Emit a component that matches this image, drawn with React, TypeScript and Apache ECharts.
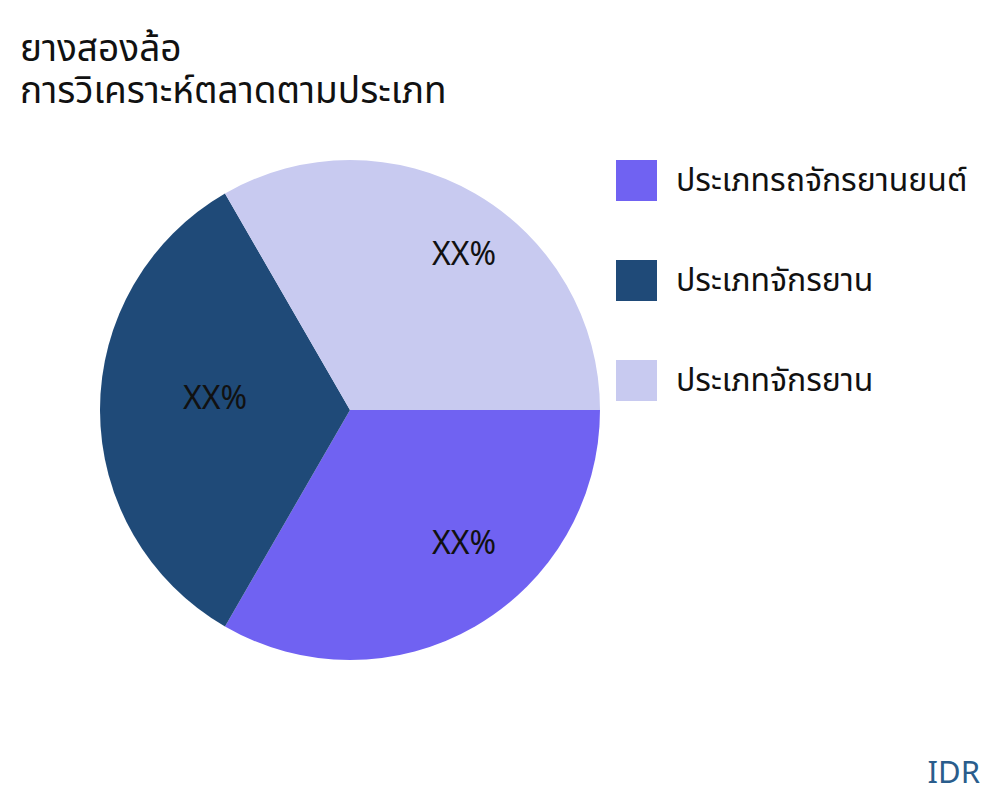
import { useEffect, useRef } from "react";
import * as echarts from "echarts";

// ข้อมูลแผนภูมิ
const categories = ["ประเภทรถจักรยานยนต์", "ประเภทจักรยาน", "ประเภทจักรยาน"];
const shares = [1, 1, 1];
const labels = ["XX%", "XX%", "XX%"];
const colors = ["#7062f2", "#1f4a78", "#c8caf0"];

const titleText = "ยางสองล้อ\nการวิเคราะห์ตลาดตามประเภท";
const sourceText = "IDR";

const FONT = "'Noto Sans', 'Noto Sans Thai', 'DejaVu Sans', sans-serif";

// ขยับป้ายให้ตรงกับภาพต้นฉบับ
const labelOffsets = [
  [50, 21],
  [-7, -14],
  [50, -47],
];

export default function App() {
  const ref = useRef<HTMLDivElement>(null);

  useEffect(() => {
    if (!ref.current) return;
    const chart = echarts.init(ref.current, null, { renderer: "svg" });

    const legendItems = categories.flatMap((name, i) => [
      {
        type: "rect",
        shape: { x: 616, y: 160 + i * 100, width: 41, height: 41 },
        style: { fill: colors[i] },
      },
      {
        type: "text",
        x: 676,
        y: 178 + i * 100,
        style: {
          text: name,
          font: `32px ${FONT}`,
          fill: "#111",
          verticalAlign: "middle",
          align: "left",
        },
      },
    ]);

    chart.setOption({
      animation: false,
      backgroundColor: "#ffffff",
      title: {
        text: titleText,
        left: 15,
        top: 20,
        textStyle: {
          fontFamily: FONT,
          fontSize: 37,
          fontWeight: "normal",
          lineHeight: 42,
          color: "#111",
        },
      },
      graphic: [
        ...legendItems,
        {
          type: "text",
          right: 20,
          bottom: 14,
          style: {
            text: sourceText,
            font: `31px ${FONT}`,
            fill: "#2a5d8c",
          },
        },
      ],
      series: [
        {
          type: "pie",
          center: [350, 410],
          radius: 250,
          startAngle: 0,
          clockwise: true,
          silent: true,
          label: {
            show: true,
            position: "inside",
            fontFamily: FONT,
            fontSize: 32,
            color: "#111",
            formatter: (p: any) => labels[p.dataIndex],
          },
          labelLayout: (p: any) => ({
            dx: labelOffsets[p.dataIndex][0],
            dy: labelOffsets[p.dataIndex][1],
          }),
          labelLine: { show: false },
          itemStyle: { borderWidth: 0 },
          data: categories.map((name, i) => ({
            name,
            value: shares[i],
            itemStyle: { color: colors[i] },
          })),
        },
      ],
    });

    return () => chart.dispose();
  }, []);

  return (
    <div
      ref={ref}
      style={{ position: "fixed", left: 0, top: 0, width: 1000, height: 800 }}
    />
  );
}
